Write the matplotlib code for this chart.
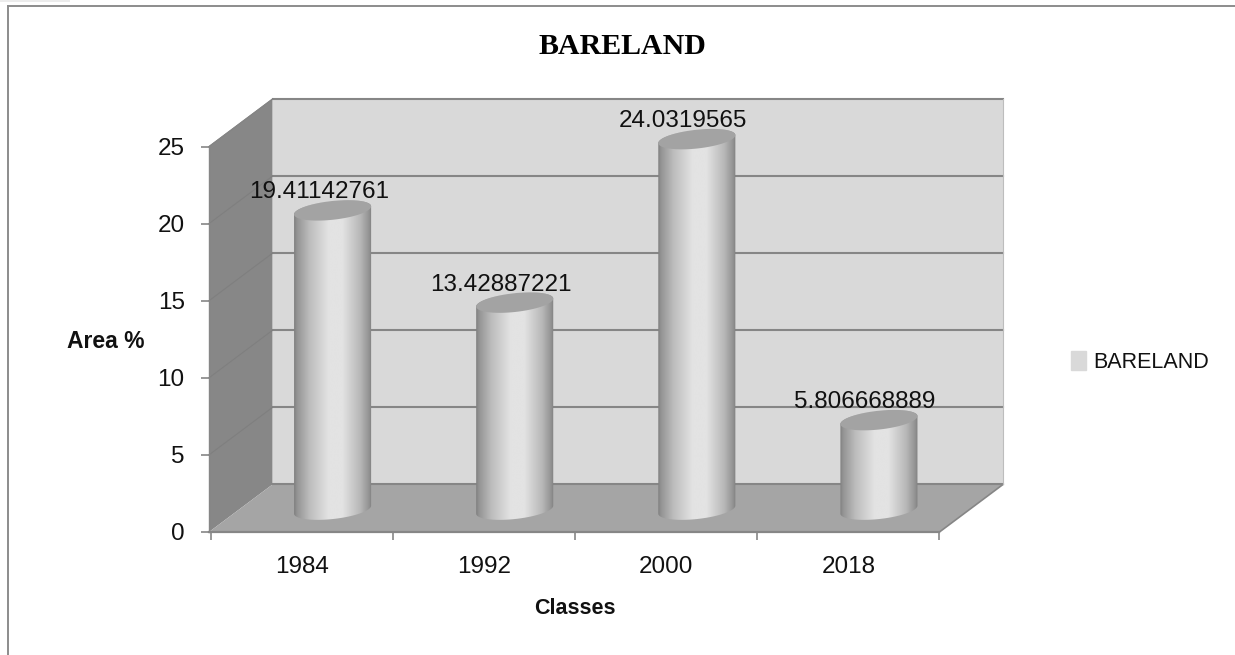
import matplotlib
matplotlib.use("Agg")
import matplotlib.pyplot as plt
import matplotlib.patches as mpatches
from matplotlib.lines import Line2D
import numpy as np

# Data
YEARS = ["1984", "1992", "2000", "2018"]
AREA = [19.41142761, 13.42887221, 24.0319565, 5.806668889]
LABELS = ["19.41142761", "13.42887221", "24.0319565", "5.806668889"]
Y_TICKS = [0, 5, 10, 15, 20, 25]

# Style
W, H = 1235, 655
WALL = "#d9d9d9"
SIDE = "#878787"
FLOOR = "#a5a5a5"
CAP = "#a3a3a3"
LINE = "#868686"
SANS = "Liberation Sans"
SERIF = "Liberation Serif"

# 3D look, in data units: 182 px per category, 15.4 px per value unit
X0 = -2 / 182
DX = 63.5 / 182
DY = 47.5 / 15.4
HALF_W = 38.5 / 182
CENTER_SHIFT = 0.1676
BASE = 1.45
TILT = 4 / 15.4
MINOR = 9.4 / 15.4

plt.rcParams["font.family"] = SANS

fig = plt.figure(figsize=(W / 100, H / 100), dpi=100, facecolor="white")
ax = fig.add_axes([209 / W, 1 - 532 / H, 794 / W, 433 / H])
ax.patch.set_visible(False)
for s in ax.spines.values():
    s.set_visible(False)

# Outer chart frame and the scrap of selection box in the corner
fig.add_artist(Line2D([8 / W, 8 / W], [0, 1 - 6 / H], color="#8c8c8c", lw=1.4))
fig.add_artist(Line2D([8 / W, 1], [1 - 6 / H, 1 - 6 / H], color="#8c8c8c", lw=1.4))
fig.add_artist(mpatches.Rectangle((0, 1 - 2 / H), 70 / W, 2 / H, color="#ececec", lw=0))

# ── Walls and floor ──
x_back = X0 + DX
x_end = 4 + DX
ax.add_patch(mpatches.Polygon([(x_back, DY), (x_end, DY), (x_end, 25 + DY), (x_back, 25 + DY)],
                              facecolor=WALL, edgecolor="none", zorder=1))
ax.add_patch(mpatches.Polygon([(X0, 0), (x_back, DY), (x_back, 25 + DY), (X0, 25)],
                              facecolor=SIDE, edgecolor="none", zorder=1))
ax.add_patch(mpatches.Polygon([(X0, 0), (4, 0), (x_end, DY), (x_back, DY)],
                              facecolor=FLOOR, edgecolor="none", zorder=1))

for v in Y_TICKS:
    ax.plot([x_back, x_end], [v + DY, v + DY], color=LINE, lw=1.5, zorder=2, clip_on=False)
    if v > 0:
        ax.plot([X0, x_back], [v, v + DY], color="#7f7f7f", lw=0.8, zorder=2, clip_on=False)
ax.plot([X0, 4], [0, 0], color=LINE, lw=1.6, zorder=2, clip_on=False)
ax.plot([4, x_end], [0, DY], color=LINE, lw=1.2, zorder=2, clip_on=False)
ax.plot([X0, X0], [0, 25], color=LINE, lw=1.0, zorder=2, clip_on=False)
ax.plot([X0, x_back], [25, 25 + DY], color=LINE, lw=0.8, zorder=2, clip_on=False)
ax.plot([x_end, x_end], [DY, 25 + DY], color="#bdbdbd", lw=0.8, zorder=2, clip_on=False)

# ── Cylinders ──
stops = [0, 0.04, 0.2, 0.45, 0.62, 0.85, 0.96, 1]
greys = [0.50, 0.58, 0.74, 0.89, 0.89, 0.72, 0.58, 0.50]
shade = np.interp(np.linspace(0, 1, 256), stops, greys).reshape(1, -1)

t = np.linspace(0, 2 * np.pi, 121)
for i, val in enumerate(AREA):
    cx = i + 0.5 + CENTER_SHIFT
    ex = HALF_W * np.cos(t)
    ey = TILT * np.cos(t) + MINOR * np.sin(t)

    # body outline: upper half of the top cap, lower half of the base
    top_y = BASE + val
    xs = cx + ex
    body = np.concatenate([
        np.column_stack([xs[:61], top_y + ey[:61]]),
        np.column_stack([xs[60:], BASE + ey[60:]]),
    ])
    clip = mpatches.Polygon(body, closed=True, transform=ax.transData, facecolor="none", edgecolor="none")
    ax.add_patch(clip)
    im = ax.imshow(shade, cmap="gray", vmin=0, vmax=1, aspect="auto", zorder=3,
                   extent=[cx - HALF_W, cx + HALF_W, 0, top_y + 2], interpolation="bilinear")
    im.set_clip_path(clip)

    ax.fill(xs, top_y + ey, color=CAP, lw=0, zorder=4)

    ax.annotate(LABELS[i], (cx, top_y), xytext=(-10, 13), textcoords="offset points",
                ha="center", va="center", fontsize=17.5, color="#111111", zorder=6,
                annotation_clip=False)

# ── Axes ──
ax.set_xlim(X0, x_end)
ax.set_ylim(0, 25 + DY)

ax.set_xticks(range(5))
ax.set_xticklabels([])
ax.set_xticks([0.5, 1.5, 2.5, 3.5], minor=True)
ax.set_xticklabels(YEARS, minor=True, fontsize=17.5, color="#111111")
ax.tick_params(axis="x", which="major", length=5.5, width=1.2, color=LINE)
ax.tick_params(axis="x", which="minor", length=0, pad=17)
ax.set_yticks(Y_TICKS)
ax.set_yticklabels([str(v) for v in Y_TICKS], fontsize=17.5, color="#111111")
ax.tick_params(axis="y", length=5.5, width=1.2, color=LINE, pad=12)

ax.set_title("BARELAND", x=(622 - 209) / 794, y=(532 - 46) / 433, va="center", pad=0,
             fontsize=21.5, fontweight="bold", family=SERIF, color="black")
ax.set_xlabel("Classes", fontsize=15.5, fontweight="bold", va="center", color="#111111")
ax.xaxis.set_label_coords((575 - 209) / 794, (532 - 608) / 433)
ax.set_ylabel("Area %", rotation=0, fontsize=16.5, fontweight="bold", ha="center", va="center", color="#111111")
ax.yaxis.set_label_coords((106 - 209) / 794, (532 - 341) / 433)

fig.legend(handles=[mpatches.Patch(color=WALL, label="BARELAND")], loc="center left",
           bbox_to_anchor=(1071 / W, 1 - 362 / H), frameon=False, fontsize=15.5,
           borderpad=0, borderaxespad=0, handlelength=0.7, handleheight=0.95,
           handletextpad=0.32, labelcolor="#111111")

fig.savefig("out.png", dpi=100, facecolor="white")
